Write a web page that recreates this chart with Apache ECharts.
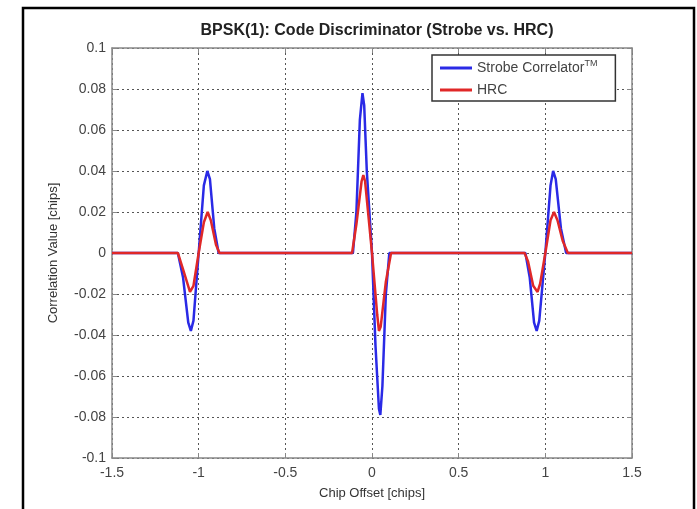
<!DOCTYPE html>
<html>
<head>
<meta charset="utf-8">
<script src="https://cdn.jsdelivr.net/npm/echarts@6/dist/echarts.min.js"></script>
<style>
  html, body { margin: 0; padding: 0; background: #fff; }
  #main { width: 697px; height: 509px; }
</style>
</head>
<body>
<div id="main"></div>
<script>
// values (chip offset / correlation value)
var blueX = [-1.5, -1.12, -1.09, -1.06, -1.045, -1.03, -1.0, -0.97, -0.95, -0.935, -0.91, -0.885,
  -0.11, -0.09, -0.07, -0.055, -0.045, -0.03, 0, 0.02, 0.04, 0.048, 0.06, 0.08, 0.1,
  0.885, 0.91, 0.935, 0.95, 0.965, 1.0, 1.03, 1.045, 1.06, 1.09, 1.12, 1.5];
var blueY = [0, 0, -0.012, -0.034, -0.038, -0.033, 0, 0.033, 0.040, 0.036, 0.012, 0,
  0, 0.02, 0.065, 0.078, 0.072, 0.04, 0, -0.045, -0.076, -0.079, -0.065, -0.02, 0,
  0, -0.012, -0.034, -0.038, -0.033, 0, 0.033, 0.040, 0.036, 0.012, 0, 0];

var redX = [-1.5, -1.12, -1.09, -1.05, -1.03, -1.0, -0.97, -0.948, -0.93, -0.9, -0.88,
  -0.115, -0.09, -0.06, -0.05, -0.04, 0, 0.03, 0.04, 0.05, 0.08, 0.11,
  0.88, 0.9, 0.93, 0.955, 0.97, 1.0, 1.03, 1.05, 1.07, 1.1, 1.13, 1.5];
var redY = [0, 0, -0.008, -0.019, -0.016, 0, 0.015, 0.020, 0.016, 0.004, 0,
  0, 0.014, 0.035, 0.038, 0.035, 0, -0.03, -0.038, -0.036, -0.014, 0,
  0, -0.004, -0.016, -0.019, -0.015, 0, 0.016, 0.020, 0.016, 0.006, 0, 0];

var seriesNames = ['Strobe Correlator', 'HRC'];

function pairs(xs, ys) {
  return xs.map(function (x, i) { return [x, ys[i]]; });
}

var chart = echarts.init(document.getElementById('main'));

var gridLine = { show: true, lineStyle: { color: '#555', type: [2, 3], width: 1 } };
var boxLine = { show: true, onZero: false, lineStyle: { color: '#888', width: 1.5 } };
var tick = { show: true, inside: true, length: 5, lineStyle: { color: '#888', width: 1 } };
var font = 'Liberation Sans, Arial, sans-serif';

chart.setOption({
  animation: false,
  backgroundColor: '#fff',
  title: {
    text: 'BPSK(1): Code Discriminator (Strobe vs. HRC)',
    left: 372, textAlign: 'center', top: 18,
    textStyle: { fontFamily: font, fontSize: 16, fontWeight: 'bold', color: '#222' }
  },
  grid: { left: 112, right: 65, top: 48, bottom: 51 },
  legend: {
    orient: 'vertical', left: 432, top: 55,
    padding: [4, 18, 4, 8], itemGap: 8,
    itemWidth: 32, itemHeight: 3, icon: 'rect',
    borderColor: '#333', borderWidth: 1.5, backgroundColor: '#fff',
    data: seriesNames,
    formatter: function (name) {
      return name === 'Strobe Correlator' ? name + '{tm|TM}' : name;
    },
    textStyle: {
      fontFamily: font, fontSize: 14, color: '#444',
      rich: { tm: { fontFamily: font, fontSize: 9, color: '#444', padding: [0, 0, 9, 0] } }
    }
  },
  xAxis: [{
    type: 'value', min: -1.5, max: 1.5, interval: 0.5,
    name: 'Chip Offset [chips]', nameLocation: 'middle', nameGap: 29,
    nameTextStyle: { fontFamily: font, fontSize: 13, color: '#333' },
    axisLine: boxLine, axisTick: tick, splitLine: gridLine,
    axisLabel: { fontFamily: font, fontSize: 14, color: '#444', margin: 8 }
  }, {
    type: 'value', position: 'top', min: -1.5, max: 1.5, interval: 0.5,
    axisLine: boxLine, axisTick: tick, splitLine: { show: false },
    axisLabel: { show: false }
  }],
  yAxis: [{
    type: 'value', min: -0.1, max: 0.1, interval: 0.02,
    name: 'Correlation Value [chips]', nameLocation: 'middle', nameGap: 52,
    nameTextStyle: { fontFamily: font, fontSize: 13, color: '#333' },
    axisLine: boxLine, axisTick: tick, splitLine: gridLine,
    axisLabel: {
      fontFamily: font, fontSize: 14, color: '#444', margin: 6,
      formatter: function (v) { return String(Math.round(v * 100) / 100); }
    }
  }, {
    type: 'value', position: 'right', min: -0.1, max: 0.1, interval: 0.02,
    axisLine: boxLine, axisTick: tick, splitLine: { show: false },
    axisLabel: { show: false }
  }],
  graphic: [{
    type: 'rect', shape: { x: 23, y: 8, width: 671, height: 510 },
    style: { fill: null, stroke: '#000', lineWidth: 2.5 }, silent: true
  }],
  series: [{
    name: seriesNames[0], type: 'line', showSymbol: false,
    data: pairs(blueX, blueY),
    itemStyle: { color: '#2a2ae6' },
    lineStyle: { color: '#2a2ae6', width: 2.5 }
  }, {
    name: seriesNames[1], type: 'line', showSymbol: false,
    data: pairs(redX, redY),
    itemStyle: { color: '#e02828' },
    lineStyle: { color: '#e02828', width: 2.5 }
  }]
});
</script>
</body>
</html>
